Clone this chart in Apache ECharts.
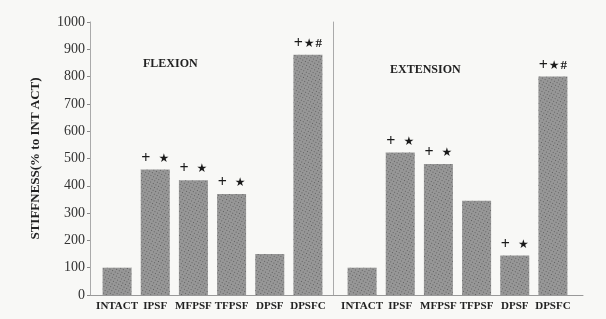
<!DOCTYPE html>
<html style="height: 100%">
<head>
  <meta charset="utf-8">
  <title>Stiffness</title>
</head>
<body style="height: 100%; margin: 0; background: #f8f8f6">
  <div id="container" style="width: 606px; height: 319px"></div>
  <script src="https://cdn.jsdelivr.net/npm/echarts@6/dist/echarts.min.js"></script>
  <script>
    // data
    const categories = ['INTACT', 'IPSF', 'MFPSF', 'TFPSF', 'DPSF', 'DPSFC'];
    const flexionValues = [100, 460, 420, 370, 150, 880];
    const extensionValues = [100, 522, 480, 345, 145, 800];
    const flexionMarks = ['', '+ *', '+ *', '+ *', '', '+*#'];
    const extensionMarks = ['', '+ *', '+ *', '', '+ *', '+*#'];
    const yTicks = [0, 100, 200, 300, 400, 500, 600, 700, 800, 900, 1000];

    const font = '"Liberation Serif", "DejaVu Serif", serif';
    const gridTop = 22, gridBottom = 24;

    let myChart = echarts.init(document.getElementById('container'));

    const barStyle = {
      color: '#979797',
      decal: {
        symbol: 'rect',
        symbolSize: 1,
        dashArrayX: [1, 2],
        dashArrayY: [1, 2],
        rotation: 0.5,
        color: 'rgba(60,60,60,0.6)'
      }
    };

    // '+', '*' (drawn as a small star) and '#' above the bars
    function markText(s) {
      if (!s) return '';
      const wide = s.indexOf(' ') >= 0;
      return s.replace(/ /g, '').split('').map(ch => {
        if (ch === '+') return '{p|+}';
        if (ch === '*') return '{s|★}';
        return '{h|#}';
      }).join(wide ? '{g| }' : '{t| }');
    }

    function markLabel(marks) {
      return {
        show: true,
        position: 'top',
        distance: 3,
        color: '#222',
        formatter: p => markText(marks[p.dataIndex]),
        rich: {
          p: { fontFamily: font, fontWeight: 'bold', fontSize: 16, color: '#1a1a1a' },
          s: { fontFamily: '"DejaVu Sans", sans-serif', fontSize: 12, color: '#1a1a1a' },
          h: { fontFamily: font, fontWeight: 'bold', fontSize: 13, color: '#1a1a1a' },
          g: { fontSize: 12, width: 8 },
          t: { fontSize: 12, width: 1 }
        }
      };
    }

    const catAxis = idx => ({
      type: 'category',
      gridIndex: idx,
      data: categories,
      axisLine: { show: false },
      axisTick: { show: false },
      axisLabel: {
        interval: 0,
        margin: 6,
        fontFamily: font,
        fontWeight: 'bold',
        fontSize: 11,
        color: '#222'
      }
    });

    let option = {
      backgroundColor: '#f8f8f6',
      animation: false,
      title: [
        { text: 'FLEXION', left: 138, top: 53,
          textStyle: { fontFamily: font, fontWeight: 'bold', fontSize: 12, color: '#222' } },
        { text: 'EXTENSION', left: 385, top: 59,
          textStyle: { fontFamily: font, fontWeight: 'bold', fontSize: 12, color: '#222' } }
      ],
      grid: [
        { left: 90, right: 23, top: gridTop, bottom: gridBottom },
        { left: 98, right: 279, top: gridTop, bottom: gridBottom },
        { left: 343, right: 34, top: gridTop, bottom: gridBottom }
      ],
      xAxis: [
        {
          type: 'value', gridIndex: 0, min: 0, max: 1,
          axisLine: { show: true, lineStyle: { color: '#999' } },
          axisTick: { show: false }, axisLabel: { show: false }, splitLine: { show: false }
        },
        catAxis(1),
        catAxis(2)
      ],
      yAxis: [
        {
          type: 'value', gridIndex: 0, min: 0, max: 1000, position: 'right',
          axisLine: { show: true, lineStyle: { color: '#e2e2e2' } },
          axisTick: { show: false }, axisLabel: { show: false }, splitLine: { show: false }
        },
        {
          type: 'value', gridIndex: 1, min: yTicks[0], max: yTicks[yTicks.length - 1], interval: 100,
          offset: 8,
          name: 'STIFFNESS(% to INT ACT)',
          nameLocation: 'middle',
          nameGap: 48,
          nameTextStyle: { fontFamily: font, fontWeight: 'bold', fontSize: 13, color: '#222' },
          axisLine: { show: true, lineStyle: { color: '#aaa' } },
          axisTick: { show: true, length: 3, lineStyle: { color: '#888' } },
          axisLabel: {
            margin: 5, fontFamily: font, fontSize: 14, color: '#333',
            formatter: v => String(v)
          },
          splitLine: { show: false }
        },
        {
          type: 'value', gridIndex: 2, min: 0, max: 1000, interval: 100,
          offset: 10,
          axisLine: { show: true, lineStyle: { color: '#aaa' } },
          axisTick: { show: false }, axisLabel: { show: false }, splitLine: { show: false }
        }
      ],
      series: [
        {
          type: 'bar', name: 'Flexion', xAxisIndex: 1, yAxisIndex: 1,
          data: flexionValues, barWidth: 29,
          itemStyle: barStyle, label: markLabel(flexionMarks)
        },
        {
          type: 'bar', name: 'Extension', xAxisIndex: 2, yAxisIndex: 2,
          data: extensionValues, barWidth: 29,
          itemStyle: barStyle, label: markLabel(extensionMarks)
        }
      ]
    };

    myChart.setOption(option);
  </script>
</body>
</html>
